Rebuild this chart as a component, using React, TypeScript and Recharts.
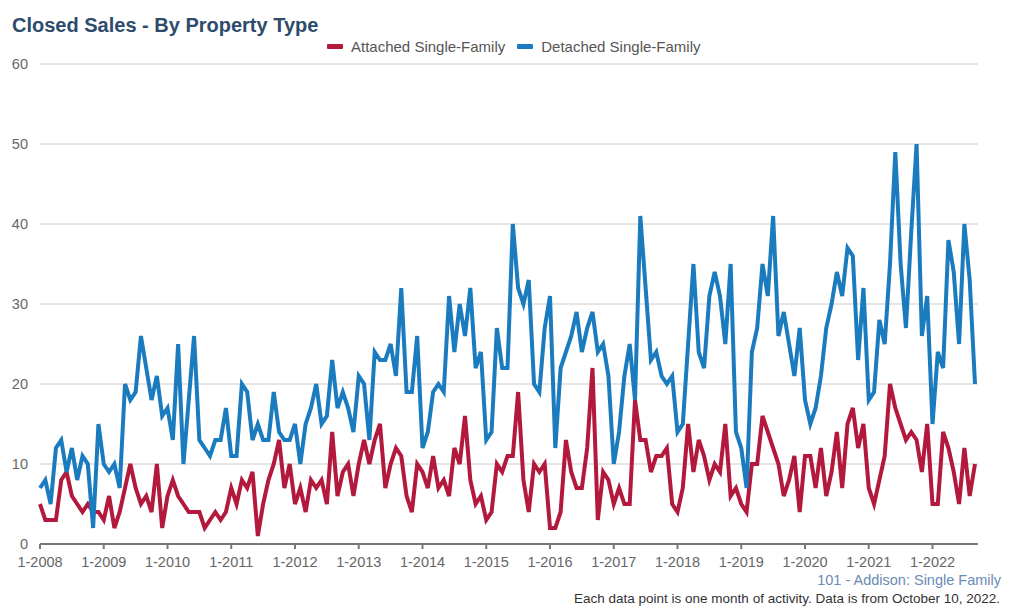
import React from 'react';
import { LineChart, Line, XAxis, YAxis, CartesianGrid } from 'recharts';

// monthly closed sales, 1-2008 .. 9-2022
const attached = [
  5, 3, 3, 3, 8, 9, 6, 5, 4, 5, 4, 4,
  3, 6, 2, 4, 7, 10, 7, 5, 6, 4, 10, 2,
  6, 8, 6, 5, 4, 4, 4, 2, 3, 4, 3, 4,
  7, 5, 8, 7, 9, 1, 5, 8, 10, 13, 7, 10,
  5, 7, 4, 8, 7, 8, 5, 14, 6, 9, 10, 6,
  10, 13, 10, 13, 15, 7, 10, 12, 11, 6, 4, 10,
  9, 7, 11, 7, 8, 6, 12, 10, 16, 8, 5, 6,
  3, 4, 10, 9, 11, 11, 19, 8, 4, 10, 9, 10,
  2, 2, 4, 13, 9, 7, 7, 12, 22, 3, 9, 8,
  5, 7, 5, 5, 18, 13, 13, 9, 11, 11, 12, 5,
  4, 7, 15, 9, 13, 11, 8, 10, 9, 15, 6, 7,
  5, 4, 10, 10, 16, 14, 12, 10, 6, 8, 11, 4,
  11, 11, 7, 12, 6, 9, 14, 7, 15, 17, 12, 15,
  7, 5, 8, 11, 20, 17, 15, 13, 14, 13, 9, 15,
  5, 5, 14, 12, 9, 5, 12, 6, 10,
];

const detached = [
  7, 8, 5, 12, 13, 9, 12, 8, 11, 10, 2, 15,
  10, 9, 10, 7, 20, 18, 19, 26, 22, 18, 21, 16,
  17, 13, 25, 10, 18, 26, 13, 12, 11, 13, 13, 17,
  11, 11, 20, 19, 13, 15, 13, 13, 19, 14, 13, 13,
  15, 10, 15, 17, 20, 15, 16, 23, 17, 19, 17, 14,
  21, 20, 13, 24, 23, 23, 25, 21, 32, 19, 19, 26,
  12, 14, 19, 20, 19, 31, 24, 30, 26, 32, 22, 24,
  13, 14, 27, 22, 22, 40, 32, 30, 33, 20, 19, 27,
  31, 12, 22, 24, 26, 29, 24, 27, 29, 24, 25, 21,
  10, 14, 21, 25, 18, 41, 32, 23, 24, 21, 20, 21,
  14, 15, 25, 35, 24, 22, 31, 34, 31, 25, 35, 14,
  12, 7, 24, 27, 35, 31, 41, 26, 29, 25, 21, 27,
  18, 15, 17, 21, 27, 30, 34, 31, 37, 36, 23, 32,
  18, 19, 28, 25, 35, 49, 35, 27, 39, 50, 26, 31,
  15, 24, 22, 38, 34, 25, 40, 33, 20,
];

const yearTicks = [0, 12, 24, 36, 48, 60, 72, 84, 96, 108, 120, 132, 144, 156, 168];
const yearLabels = [
  '1-2008', '1-2009', '1-2010', '1-2011', '1-2012', '1-2013', '1-2014', '1-2015',
  '1-2016', '1-2017', '1-2018', '1-2019', '1-2020', '1-2021', '1-2022',
];
const valueTicks = [0, 10, 20, 30, 40, 50, 60];

const RED = '#b3193c';
const BLUE = '#1b7bbf';

const data = attached.map((v, i) => ({ month: i, attached: v, detached: detached[i] }));

function LegendItem({ color, label }: { color: string; label: string }) {
  return (
    <div style={{ display: 'flex', alignItems: 'center', marginRight: 12 }}>
      <span style={{ width: 16, height: 5, background: color, borderRadius: 1, marginRight: 8 }} />
      <span>{label}</span>
    </div>
  );
}

export default function App() {
  return (
    <div
      style={{
        position: 'relative',
        width: 1024,
        height: 610,
        background: '#fff',
        fontFamily: '"Liberation Sans", Arial, sans-serif',
      }}
    >
      <style>{'body{margin:0}'}</style>
      <div
        style={{
          position: 'absolute',
          left: 12,
          top: 15,
          fontSize: 20,
          lineHeight: 1,
          fontWeight: 'bold',
          color: '#2d4b6b',
        }}
      >
        Closed Sales - By Property Type
      </div>
      <div
        style={{
          position: 'absolute',
          left: 327,
          top: 39,
          display: 'flex',
          fontSize: 15,
          lineHeight: 1,
          color: '#555',
        }}
      >
        <LegendItem color={RED} label="Attached Single-Family" />
        <LegendItem color={BLUE} label="Detached Single-Family" />
      </div>

      <LineChart
        width={1024}
        height={610}
        data={data}
        margin={{ top: 64, right: 46, bottom: 36, left: 0 }}
      >
        <CartesianGrid vertical={false} stroke="#cccccc" />
        <XAxis
          type="number"
          dataKey="month"
          domain={[0, 176]}
          ticks={yearTicks}
          interval={0}
          tickFormatter={(v: number) => yearLabels[yearTicks.indexOf(v)]}
          padding={{ left: 0, right: 3 }}
          height={30}
          axisLine={{ stroke: '#777', strokeWidth: 2 }}
          tickLine={{ stroke: '#777', strokeWidth: 2 }}
          tickSize={5}
          tickMargin={8}
          tick={{ fill: '#666', fontSize: 14.5 }}
        />
        <YAxis
          domain={[0, 60]}
          ticks={valueTicks}
          interval={0}
          width={40}
          axisLine={false}
          tickLine={false}
          tickMargin={6}
          tick={{ fill: '#666', fontSize: 14.5 }}
        />
        <Line
          type="linear"
          dataKey="attached"
          stroke={RED}
          strokeWidth={4}
          dot={false}
          activeDot={false}
          isAnimationActive={false}
        />
        <Line
          type="linear"
          dataKey="detached"
          stroke={BLUE}
          strokeWidth={4}
          dot={false}
          activeDot={false}
          isAnimationActive={false}
        />
      </LineChart>

      <div
        style={{
          position: 'absolute',
          right: 23,
          top: 573,
          fontSize: 14.5,
          lineHeight: 1,
          color: '#6a8bb3',
        }}
      >
        101 - Addison: Single Family
      </div>
      <div
        style={{
          position: 'absolute',
          right: 24,
          top: 592,
          fontSize: 13.5,
          lineHeight: 1,
          color: '#333',
        }}
      >
        Each data point is one month of activity. Data is from October 10, 2022.
      </div>
    </div>
  );
}
